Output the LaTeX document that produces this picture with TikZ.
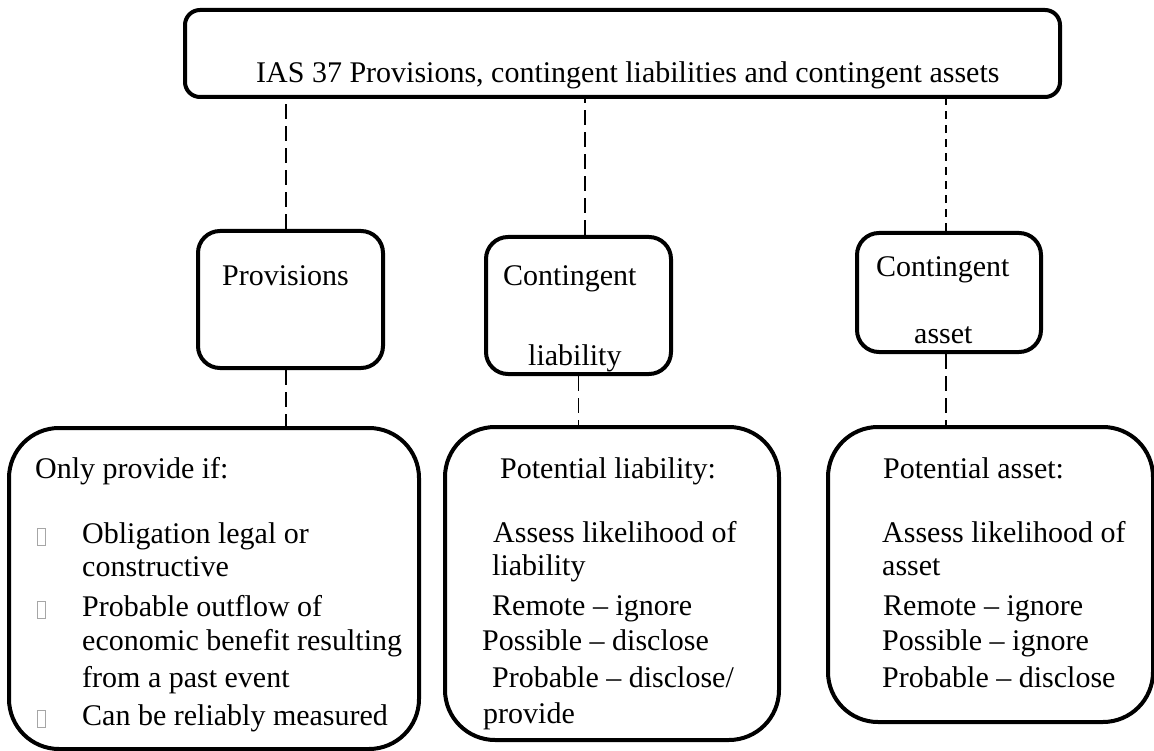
\documentclass[tikz,border=0pt]{standalone}
\usepackage{fontspec}
\setmainfont{Liberation Serif}
\begin{document}
\begin{tikzpicture}[x=1pt,y=-1pt,
  every node/.style={font=\fontsize{30}{36}\selectfont},
  frame/.style={draw, line width=4pt, inner sep=0pt},
  topframe/.style={frame, rounded corners=15pt},
  midframe/.style={frame, rounded corners=22pt},
  lowframe/.style={frame, rounded corners=50pt},
  txt/.style={anchor=base west, inner sep=0pt},
  link/.style={line width=1.8pt, dash pattern=on 15pt off 7pt},
  linkfine/.style={line width=1.6pt, dash pattern=on 8pt off 6pt},
  bul/.style={draw=gray!70, line width=0.8pt, minimum width=8pt, minimum height=17pt, inner sep=0pt}
]
\useasboundingbox (0,0) rectangle (1154,751);
\fill[white] (0,0) rectangle (1154,751);

% boxes
\node[topframe, minimum width=875pt, minimum height=87pt] (top) at (622.5,53.5) {};
\node[midframe, minimum width=185pt, minimum height=137pt] (prov) at (290.5,299.5) {};
\node[midframe, minimum width=185pt, minimum height=137pt] (cl) at (578.5,305.5) {};
\node[midframe, minimum width=184pt, minimum height=119pt] (ca) at (949,292.5) {};
\node[lowframe, minimum width=410pt, minimum height=321pt] (lowl) at (214,588.5) {};
\node[lowframe, minimum width=334pt, minimum height=313pt] (lowm) at (612,583.5) {};
\node[lowframe, minimum width=325pt, minimum height=295pt] (lowr) at (990.5,574.5) {};

% connectors
\draw[link] ([xshift=-4.5pt]prov.north) -- ([xshift=-4.5pt]prov.north |- top.south);
\draw[link] ([xshift=6.5pt]cl.north) -- ([xshift=6.5pt]cl.north |- top.south);
\draw[linkfine] ([xshift=-3pt]ca.north) -- ([xshift=-3pt]ca.north |- top.south);
\draw[link] ([xshift=-4.5pt]prov.south) -- ([xshift=-4.5pt]prov.south |- lowl.north);
\draw[link] (cl.south) -- (cl.south |- lowm.north);
\draw[link] ([xshift=-3pt]ca.south) -- ([xshift=-3pt]ca.south |- lowr.north);

% texts
\node[txt] (ttop) at (256,83) {IAS 37 Provisions, contingent liabilities and contingent assets};
\node[txt] (tprov) at (222,286) {Provisions};
\node[txt] (tcl1) at (503,286) {Contingent};
\node[txt] (tcl2) at (528,366) {liability};
\node[txt] (tca1) at (876,277) {Contingent};
\node[txt] (tca2) at (914,343) {asset};

\node[txt] (l1) at (35,478) {Only provide if:};
\node[txt] (l2) at (82,543) {Obligation legal or};
\node[txt] (l3) at (82,576) {constructive};
\node[txt] (l4) at (82,616) {Probable outflow of};
\node[txt] (l5) at (82,650) {economic benefit resulting};
\node[txt] (l6) at (82,687) {from a past event};
\node[txt] (l7) at (82,725) {Can be reliably measured};
\node[bul] (b1) at (41,536.5) {};
\node[bul] (b2) at (41,609.5) {};
\node[bul] (b3) at (41,718.5) {};

\node[txt] (m1) at (500,478) {Potential liability:};
\node[txt] (m2) at (493,542) {Assess likelihood of};
\node[txt] (m3) at (492,575) {liability};
\node[txt] (m4) at (492,615) {Remote – ignore};
\node[txt] (m5) at (482,650) {Possible – disclose};
\node[txt] (m6) at (492,687) {Probable – disclose/};
\node[txt] (m7) at (483,723) {provide};

\node[txt] (r1) at (883,478) {Potential asset:};
\node[txt] (r2) at (882,542) {Assess likelihood of};
\node[txt] (r3) at (882,575) {asset};
\node[txt] (r4) at (883,615) {Remote – ignore};
\node[txt] (r5) at (882,650) {Possible – ignore};
\node[txt] (r6) at (882,687) {Probable – disclose};
\end{tikzpicture}
\end{document}
